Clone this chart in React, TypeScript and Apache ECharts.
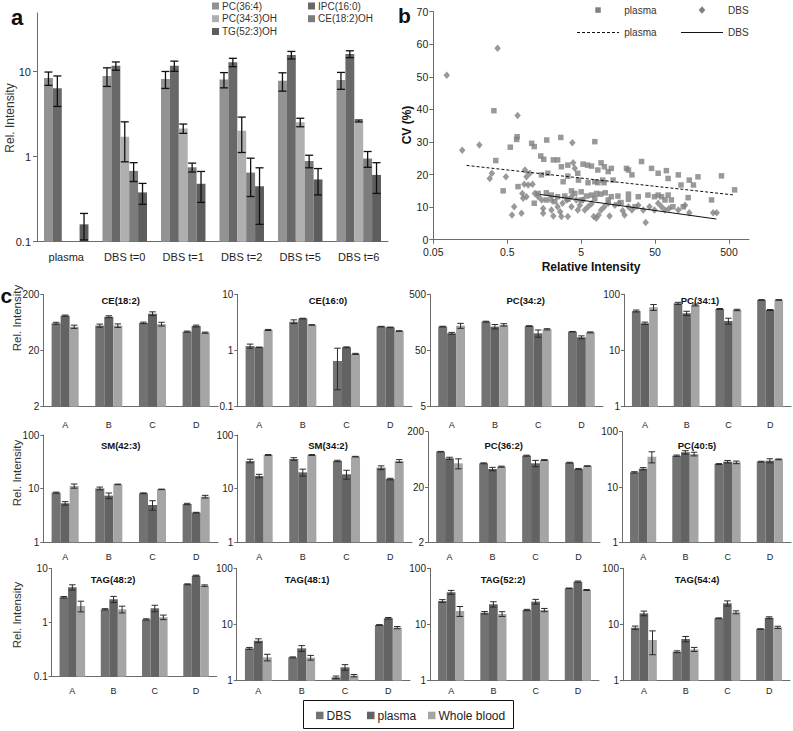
import React, { useEffect, useRef } from 'react';
import * as echarts from 'echarts';

const FONT = '"Liberation Sans", Arial, Helvetica, sans-serif';

// ---------------- Panel a data ----------------
const aCategories = ['plasma', 'DBS t=0', 'DBS t=1', 'DBS t=2', 'DBS t=5', 'DBS t=6'];
const aSeriesNames = ['PC(36:4)', 'IPC(16:0)', 'PC(34:3)OH', 'CE(18:2)OH', 'TG(52:3)OH'];
const aPC36_4 = [8.4, 8.9, 8.2, 8.1, 7.8, 8.0];
const aPC36_4Err = [1.5, 2.2, 1.85, 1.65, 1.9, 1.8];
const aIPC16_0 = [6.4, 11.7, 11.7, 12.9, 15.7, 16.1];
const aIPC16_0Err = [2.5, 1.3, 1.6, 1.45, 1.6, 1.5];
const aPC34_3OH = [null, 1.72, 2.15, 2.02, 2.54, 2.63];
const aPC34_3OHErr = [null, 0.85, 0.27, 0.9, 0.29, 0.07];
const aCE18_2OH = [null, 0.68, 0.75, 0.65, 0.89, 0.95];
const aCE18_2OHErr = [null, 0.17, 0.09, 0.31, 0.15, 0.2];
const aTG52_3OH = [0.16, 0.38, 0.48, 0.45, 0.54, 0.61];
const aTG52_3OHErr = [0.055, 0.105, 0.19, 0.29, 0.185, 0.24];
const aAxisMin = 0.1;
const aTicks = [0.1, 1, 10];

// ---------------- Panel b data ----------------
const bPlasma: number[][] = [
  [0.33, 39.6], [0.35, 24.3], [0.55, 28.4], [0.68, 31.6], [0.67, 30.8], [0.44, 15.0], [0.7, 16.3],
  [1.07, 29.6], [1.16, 28.6], [1.42, 25.7], [1.56, 24.7], [1.71, 30.6], [2.65, 31.4], [7.65, 30.1],
  [1.16, 11.2], [1.45, 19.9], [1.77, 20.4], [2.1, 24.5], [2.4, 24.5], [2.7, 22.4], [3.3, 22.9],
  [3.3, 19.5], [2.85, 17.8], [4.5, 20.4], [4.6, 18.3], [5.3, 23.2], [6.1, 22.9], [6.9, 22.6],
  [8.4, 21.4], [9.3, 23.6], [10.3, 22.4], [11.6, 20.9], [9.8, 18.3], [12.8, 21.9], [13.5, 18.3],
  [7.65, 17.8], [6.2, 17.5], [8.4, 17.5], [10.2, 17.5], [20.5, 21.9], [21.8, 21.4], [24.3, 19.9],
  [32.8, 24.0], [44.8, 21.9], [55, 20.4], [71, 21.2], [75, 18.8], [103, 19.9], [112, 16.8],
  [145, 18.3], [165, 16.8], [190, 19.3], [395, 19.6], [595, 15.3], [290, 12.2], [140, 12.9],
  [120, 10.1], [1.31, 14.2], [1.69, 14.4], [1.97, 13.7], [2.4, 13.2], [3.0, 13.4], [3.7, 15.0],
  [4.1, 14.2], [5.0, 14.7], [5.9, 13.4], [6.9, 13.7], [8.1, 14.2], [9.2, 14.0], [10.6, 14.4],
  [12.8, 13.2], [15.7, 13.4], [21.8, 14.0], [29.6, 13.2], [40, 13.7], [49, 13.2], [55, 13.7],
  [61, 13.2], [68, 12.2], [75, 13.7], [83, 12.2], [87, 10.1], [1.69, 12.2], [2.2, 11.7],
  [3.3, 12.4], [5.0, 12.2], [7.65, 12.7], [11.6, 12.2], [17.3, 11.4], [21.8, 12.4], [26.7, 10.1],
];
const bDBS: number[][] = [
  [0.076, 50.5], [0.37, 58.8], [0.123, 27.5], [0.21, 29.1], [0.69, 38.1], [3.8, 29.8], [0.29, 18.8],
  [0.31, 20.4], [0.48, 19.3], [0.87, 21.4], [0.91, 19.3], [1.01, 20.4], [0.96, 16.8], [0.8, 14.2],
  [0.82, 12.7], [0.91, 13.2], [0.62, 10.1], [0.58, 7.6], [0.78, 8.1], [1.18, 14.2], [1.31, 13.2],
  [1.46, 12.2], [1.53, 9.6], [1.53, 8.1], [1.98, 12.2], [1.98, 9.1], [2.1, 7.3], [2.4, 10.1],
  [2.6, 8.6], [2.7, 7.1], [2.8, 11.2], [3.2, 12.2], [3.3, 7.1], [3.7, 13.2], [3.7, 10.1],
  [3.9, 23.6], [4.1, 21.9], [4.3, 12.2], [4.5, 9.1], [4.8, 10.6], [5.3, 12.2], [5.6, 9.1],
  [6.2, 10.1], [6.9, 11.0], [7.4, 7.1], [8.0, 6.6], [8.6, 7.6], [9.3, 9.1], [10.3, 10.1],
  [11.6, 11.2], [12.1, 7.3], [14.3, 10.6], [16.1, 11.2], [18.2, 8.9], [19.3, 7.6], [21.8, 10.1],
  [24.3, 9.1], [29.6, 10.6], [34.6, 9.1], [37.3, 5.3], [42, 10.1], [49, 9.1], [55, 11.2],
  [61, 10.1], [68, 9.1], [77, 9.6], [103, 9.1], [127, 10.6], [145, 8.3], [305, 8.3], [340, 8.3],
  [1.1, 17.0], [0.85, 17.0],
];
const bPlasmaTrend: number[][] = [[0.141, 22.8], [598, 13.7]];
const bDBSTrend: number[][] = [[1.38, 13.9], [337, 6.35]];
const bXMin = 0.05;
const bXTicks = [0.05, 0.5, 5, 50, 500];
const bLegendNames = ['plasma', 'DBS'];

// ---------------- Panel c data ----------------
const cCategories = ['A', 'B', 'C', 'D'];
const cGroups = ['DBS', 'plasma', 'Whole blood'];
const cTitles = ['CE(18:2)', 'CE(16:0)', 'PC(34:2)', 'PC(34:1)', 'SM(42:3)', 'SM(34:2)', 'PC(36:2)', 'PC(40:5)', 'TAG(48:2)', 'TAG(48:1)', 'TAG(52:2)', 'TAG(54:4)'];
const cAxisMin = [2, 0.1, 5, 1, 1, 1, 2, 1, 0.1, 1, 1, 1];

const ce18_2 = [[61, 55.5, 62, 43.3], [83.4, 80, 90.5, 54.6], [53, 55.5, 59, 41.5]];
const ce18_2Err = [[2.5, 3.5, 2, 1], [2, 3, 7, 2], [3.5, 4, 4.5, 1]];
const ce16_0 = [[1.2, 3.26, 0.65, 2.66], [1.14, 3.7, 1.14, 2.58], [2.32, 2.85, 0.87, 2.22]];
const ce16_0Err = [[0.1, 0.25, 0.45, 0.03], [0.01, 0.05, 0.02, 0.03], [0.05, 0.03, 0.02, 0.03]];
const pc34_2 = [[133, 163, 136, 108], [101, 133, 101, 86], [138, 143, 119, 105]];
const pc34_2Err = [[2, 3, 2, 1], [4, 12, 15, 5], [14, 7, 3, 2]];
const pc34_1 = [[50.5, 69, 54.8, 79.3], [30.5, 45.9, 33.5, 52.6], [58.7, 64.6, 52.6, 79.3]];
const pc34_1Err = [[2, 3, 1, 1], [1.5, 4, 4, 1], [7, 2.5, 1.5, 1]];
const sm42_3 = [[8.42, 10.1, 8.2, 5.18], [5.33, 7.4, 4.96, 3.57], [11.2, 12.0, 9.7, 7.1]];
const sm42_3Err = [[0.2, 0.6, 0.15, 0.15], [0.4, 0.9, 1.0, 0.05], [1.0, 0.15, 0.1, 0.4]];
const sm34_2 = [[32.8, 35.7, 32.8, 24.6], [17.2, 20.1, 18.5, 15.1], [42.4, 42.4, 39.5, 32.8]];
const sm34_2Err = [[2.5, 2, 1, 2], [1.3, 3, 3.5, 0.5], [0.8, 0.8, 0.5, 2]];
const pc36_2 = [[87, 53.6, 73.7, 55], [66, 42.3, 53.6, 42.3], [53.6, 46.6, 61.5, 47.9]];
const pc36_2Err = [[1, 1, 1.5, 1], [3, 3, 7, 1], [11, 1, 1, 0.5]];
const pc40_5 = [[18.4, 36.8, 26, 28.7], [21.4, 42.3, 28.7, 29.9], [35.3, 39.5, 27.9, 31.6]];
const pc40_5Err = [[0.5, 1, 0.5, 0.5], [1, 3, 1.5, 2.5], [8, 3, 1.5, 0.5]];
const tag48_2 = [[2.92, 1.75, 1.14, 5.07], [4.46, 2.68, 1.83, 7.32], [2.02, 1.75, 1.25, 4.79]];
const tag48_2Err = [[0.1, 0.05, 0.03, 0.1], [0.5, 0.35, 0.25, 0.15], [0.45, 0.25, 0.12, 0.15]];
const tag48_1 = [[3.76, 2.6, 1.15, 9.8], [5.16, 3.76, 1.73, 12.9], [2.6, 2.57, 1.23, 8.8]];
const tag48_1Err = [[0.15, 0.05, 0.06, 0.15], [0.4, 0.45, 0.2, 0.4], [0.35, 0.25, 0.06, 0.4]];
const tag52_2 = [[26.2, 16.2, 18.1, 44], [37.4, 22.9, 25.5, 57.9], [17.4, 15.4, 18.1, 41.1]];
const tag52_2Err = [[1.5, 0.8, 0.5, 0.5], [3, 2.5, 2.5, 1.5], [3.5, 1.5, 1.2, 0.8]];
const tag54_4 = [[8.79, 3.28, 12.9, 8.3], [15.8, 5.52, 23.8, 13.2], [5.3, 3.61, 16.5, 8.9]];
const tag54_4Err = [[0.6, 0.12, 0.2, 0.1], [1.5, 0.6, 2.5, 0.5], [2.4, 0.3, 1, 0.4]];

const cValues = [ce18_2, ce16_0, pc34_2, pc34_1, sm42_3, sm34_2, pc36_2, pc40_5, tag48_2, tag48_1, tag52_2, tag54_4];
const cErrors = [ce18_2Err, ce16_0Err, pc34_2Err, pc34_1Err, sm42_3Err, sm34_2Err, pc36_2Err, pc40_5Err, tag48_2Err, tag48_1Err, tag52_2Err, tag54_4Err];

// ---------------- Styles / layout ----------------
const aColors = ['#929292', '#686868', '#afafaf', '#7c7c7c', '#5d5d5d'];
const cColors = ['#727272', '#636363', '#a5a5a5'];
const TEXT = '#1e1e1e';
const AXIS = '#6b6b6b';

const cLeft = [[43.3, 237.3, 430, 624], [43.3, 237.3, 428, 622], [51.7, 236.7, 430, 623]];
const cRight = [[218, 412, 603, 791], [218, 412, 600, 791], [216.7, 410, 599, 790]];
const cTop = [[294.3, 294.3, 294.3, 294.3], [435, 435, 431.7, 431.7], [568.3, 568.3, 568.3, 568.3]];
const cBottom = [[406.7, 406.7, 406.7, 406.7], [542.3, 542.3, 542.3, 542.3], [676.7, 680.7, 680.7, 680.7]];
const cTitleX = [[120.7, 328, 525.7, 700], [120.7, 328, 503.7, 697], [113, 307, 503, 697]];
const cTitleY = [300.7, 445.7, 579];
const cLabelY = [425, 556.7, 690.5];

const lg = (v: number, min: number) => Math.log10(v / min);
const fmtNum = (x: number) => String(Number(x.toPrecision(3)));

function errRender(n: number, gapFrac: number, capW: number, color: string, lw: number) {
  return (params: any, api: any) => {
    const cat = api.value(0);
    const si = api.value(1);
    const lo = api.value(2);
    const hi = api.value(3);
    const bw = api.size([1, 0])[0];
    const groupW = bw * (1 - gapFrac);
    const barW = groupW / n;
    const p0 = api.coord([cat, lo]);
    const p1 = api.coord([cat, hi]);
    const cx = p0[0] - groupW / 2 + (si + 0.5) * barW;
    const style = { stroke: color, lineWidth: lw };
    return {
      type: 'group',
      children: [
        { type: 'line', shape: { x1: cx, y1: p0[1], x2: cx, y2: p1[1] }, style },
        { type: 'line', shape: { x1: cx - capW / 2, y1: p0[1], x2: cx + capW / 2, y2: p0[1] }, style },
        { type: 'line', shape: { x1: cx - capW / 2, y1: p1[1], x2: cx + capW / 2, y2: p1[1] }, style },
      ],
    };
  };
}

function txt(text: string, x: number, y: number, size: number, opts: any = {}) {
  const align = opts.align || 'left';
  const valign = opts.valign || 'middle';
  return {
    type: 'text',
    x,
    y,
    rotation: opts.rotation || 0,
    silent: true,
    style: {
      text,
      fill: opts.color || TEXT,
      font: `${opts.bold ? 'bold ' : ''}${size}px ${FONT}`,
      align,
      verticalAlign: valign,
      textAlign: align,
      textVerticalAlign: valign,
    },
  };
}

function buildOption() {
  const grid: any[] = [];
  const xAxis: any[] = [];
  const yAxis: any[] = [];
  const series: any[] = [];
  const graphic: any[] = [];

  // ===== Panel a =====
  const aVals = [aPC36_4, aIPC16_0, aPC34_3OH, aCE18_2OH, aTG52_3OH];
  const aErrs = [aPC36_4Err, aIPC16_0Err, aPC34_3OHErr, aCE18_2OHErr, aTG52_3OHErr];
  const aGap = 0.24;
  grid.push({ left: 37, top: 13, width: 351, height: 228.7 });
  xAxis.push({
    type: 'category', gridIndex: 0, data: aCategories,
    axisLine: { lineStyle: { color: AXIS, width: 1 } },
    axisTick: { length: 4, lineStyle: { color: AXIS } },
    axisLabel: { interval: 0, fontSize: 11, color: TEXT, fontFamily: FONT, margin: 10 },
  });
  const aTickPos = aTicks.map((t) => lg(t, aAxisMin));
  yAxis.push({
    type: 'value', gridIndex: 0, min: 0, max: 2.69,
    splitLine: { show: false },
    axisLine: { show: true, lineStyle: { color: AXIS } },
    axisTick: { show: true, length: 4, customValues: aTickPos, lineStyle: { color: AXIS } },
    axisLabel: {
      customValues: aTickPos, fontSize: 11, color: TEXT, fontFamily: FONT, margin: 6,
      formatter: (v: number) => fmtNum(aAxisMin * Math.pow(10, v)),
    },
  });
  const aErrData: any[] = [];
  aVals.forEach((vals, si) => {
    series.push({
      type: 'bar', name: aSeriesNames[si], xAxisIndex: 0, yAxisIndex: 0,
      data: vals.map((v) => (v == null ? '-' : lg(v, aAxisMin))),
      barGap: '0%', barCategoryGap: `${aGap * 100}%`,
      itemStyle: { color: aColors[si] },
    });
    vals.forEach((v, ci) => {
      const e = aErrs[si][ci];
      if (v == null || e == null) return;
      aErrData.push([ci, si, lg(Math.max(v - e, 1e-6), aAxisMin), lg(v + e, aAxisMin)]);
    });
  });
  series.push({
    type: 'custom', xAxisIndex: 0, yAxisIndex: 0, z: 5,
    renderItem: errRender(aVals.length, aGap, 8, '#111', 1.3),
    encode: { x: 0, y: [2, 3] }, data: aErrData,
  });

  // panel a legend
  const aLegPos = [[212, 6], [308, 6], [212, 18.7], [308, 18.7], [212, 31.5]];
  aSeriesNames.forEach((name, i) => {
    const [lx, ly] = aLegPos[i];
    graphic.push({ type: 'rect', silent: true, shape: { x: lx, y: ly - 3.5, width: 7, height: 7 }, style: { fill: aColors[i] } });
    graphic.push(txt(name, lx + 10, ly, 10, { color: '#333' }));
  });
  graphic.push(txt('a', 11, 17.4, 22, { bold: true, color: '#111' }));
  graphic.push(txt('Rel. Intensity', 9.5, 118, 12, { rotation: Math.PI / 2, align: 'center', color: '#333' }));

  // ===== Panel b =====
  const bg = grid.length;
  grid.push({ left: 433.3, top: 11.7, width: 315.7, height: 228 });
  const bTickPos = bXTicks.map((t) => lg(t, bXMin));
  xAxis.push({
    type: 'value', gridIndex: bg, min: 0, max: 4.27,
    splitLine: { show: false },
    axisLine: { show: true, onZero: false, lineStyle: { color: AXIS } },
    axisTick: { show: true, length: 4, customValues: bTickPos, lineStyle: { color: AXIS } },
    axisLabel: {
      customValues: bTickPos, fontSize: 10.5, color: TEXT, fontFamily: FONT, margin: 7,
      formatter: (v: number) => fmtNum(bXMin * Math.pow(10, v)),
    },
  });
  yAxis.push({
    type: 'value', gridIndex: bg, min: 0, max: 70, interval: 10,
    splitLine: { show: false },
    axisLine: { show: true, onZero: false, lineStyle: { color: AXIS } },
    axisTick: { show: true, length: 4, lineStyle: { color: AXIS } },
    axisLabel: { fontSize: 10.5, color: TEXT, fontFamily: FONT, margin: 5 },
  });
  const toB = (p: number[]) => [lg(p[0], bXMin), p[1]];
  series.push({
    type: 'scatter', name: 'plasma', xAxisIndex: bg, yAxisIndex: bg,
    symbol: 'rect', symbolSize: 5.5, itemStyle: { color: '#808080' },
    data: bPlasma.map(toB),
  });
  series.push({
    type: 'scatter', name: 'DBS', xAxisIndex: bg, yAxisIndex: bg,
    symbol: 'diamond', symbolSize: [6.5, 7.5], itemStyle: { color: '#808080' },
    data: bDBS.map(toB),
  });
  series.push({
    type: 'line', name: 'plasma trend', xAxisIndex: bg, yAxisIndex: bg, showSymbol: false, symbol: 'none',
    lineStyle: { color: '#111', width: 1, type: [3, 2] }, data: bPlasmaTrend.map(toB), z: 4,
  });
  series.push({
    type: 'line', name: 'DBS trend', xAxisIndex: bg, yAxisIndex: bg, showSymbol: false, symbol: 'none',
    lineStyle: { color: '#111', width: 1 }, data: bDBSTrend.map(toB), z: 4,
  });
  // panel b legend
  graphic.push({ type: 'rect', silent: true, shape: { x: 595.3, y: 7.3, width: 5.5, height: 5.5 }, style: { fill: '#808080' } });
  graphic.push(txt(bLegendNames[0], 624.3, 10, 10, { color: '#333' }));
  graphic.push({ type: 'polygon', silent: true, shape: { points: [[702, 6.3], [705.3, 10], [702, 13.7], [698.7, 10]] }, style: { fill: '#808080' } });
  graphic.push(txt(bLegendNames[1], 728, 10, 10, { color: '#333' }));
  graphic.push({ type: 'line', silent: true, shape: { x1: 577, y1: 32.5, x2: 619, y2: 32.5 }, style: { stroke: '#111', lineWidth: 1, lineDash: [3, 2] } });
  graphic.push(txt(bLegendNames[0], 624.3, 32.5, 10, { color: '#333' }));
  graphic.push({ type: 'line', silent: true, shape: { x1: 681, y1: 32.5, x2: 723, y2: 32.5 }, style: { stroke: '#111', lineWidth: 1 } });
  graphic.push(txt(bLegendNames[1], 728, 32.5, 10, { color: '#333' }));
  graphic.push(txt('b', 398, 15.7, 21, { bold: true, color: '#111' }));
  graphic.push(txt('CV (%)', 407, 125, 12, { bold: true, rotation: Math.PI / 2, align: 'center', color: '#111' }));
  graphic.push(txt('Relative Intensity', 591, 267, 12, { bold: true, align: 'center', color: '#111' }));

  // ===== Panel c =====
  const cGap = 0.38;
  cTitles.forEach((title, k) => {
    const r = Math.floor(k / 4);
    const c = k % 4;
    const gi = grid.length;
    const left = cLeft[r][c];
    const right = cRight[r][c];
    const top = cTop[r][c];
    const bottom = cBottom[r][c];
    const min = cAxisMin[k];
    grid.push({ left, top, width: right - left, height: bottom - top });
    xAxis.push({
      type: 'category', gridIndex: gi, data: cCategories,
      axisLine: { lineStyle: { color: AXIS, width: 1 } },
      axisTick: { length: 3, lineStyle: { color: AXIS } },
      axisLabel: { interval: 0, fontSize: 9, color: TEXT, fontFamily: FONT, margin: cLabelY[r] - 4.5 - bottom },
    });
    const ticks = [0, 1, 2];
    yAxis.push({
      type: 'value', gridIndex: gi, min: 0, max: 2,
      splitLine: { show: false },
      axisLine: { show: true, lineStyle: { color: AXIS } },
      axisTick: { show: true, length: 3, customValues: ticks, lineStyle: { color: AXIS } },
      axisLabel: {
        customValues: ticks, fontSize: 10, color: TEXT, fontFamily: FONT, margin: 4,
        formatter: (v: number) => fmtNum(min * Math.pow(10, v)),
      },
    });
    const errData: any[] = [];
    cGroups.forEach((gname, si) => {
      const vals = cValues[k][si];
      series.push({
        type: 'bar', name: gname, xAxisIndex: gi, yAxisIndex: gi,
        data: vals.map((v) => lg(v, min)),
        barGap: '0%', barCategoryGap: `${cGap * 100}%`,
        itemStyle: { color: cColors[si] },
      });
      vals.forEach((v, ci) => {
        const e = cErrors[k][si][ci];
        errData.push([ci, si, lg(Math.max(v - e, min), min), lg(v + e, min)]);
      });
    });
    series.push({
      type: 'custom', xAxisIndex: gi, yAxisIndex: gi, z: 5,
      renderItem: errRender(cGroups.length, cGap, 6.5, '#2a2a2a', 1),
      encode: { x: 0, y: [2, 3] }, data: errData,
    });
    graphic.push(txt(title, cTitleX[r][c], cTitleY[r], 9.5, { bold: true, align: 'center', color: '#111' }));
  });
  const cRelY = [318, 473, 615];
  cRelY.forEach((y) => graphic.push(txt('Rel. Intensity', 17, y, 11.5, { rotation: Math.PI / 2, align: 'center', color: '#333' })));
  graphic.push(txt('c', 0.5, 295.7, 21, { bold: true, color: '#111' }));

  // panel c legend box
  graphic.push({ type: 'rect', silent: true, shape: { x: 303.5, y: 700.5, width: 210, height: 28 }, style: { fill: '#fff', stroke: '#111', lineWidth: 1 } });
  const cLegSq = [316, 367, 428];
  cGroups.forEach((g, i) => {
    graphic.push({ type: 'rect', silent: true, z: 10, shape: { x: cLegSq[i], y: 711.7, width: 7.5, height: 7.5 }, style: { fill: cColors[i] } });
    graphic.push({ ...txt(g, cLegSq[i] + 10.5, 715.7, 12, { color: '#222' }), z: 10 });
  });

  return {
    animation: false,
    backgroundColor: '#ffffff',
    textStyle: { fontFamily: FONT },
    grid,
    xAxis,
    yAxis,
    series,
    graphic: { elements: graphic },
  };
}

export default function App() {
  const ref = useRef<HTMLDivElement>(null);
  useEffect(() => {
    const chart = echarts.init(ref.current as HTMLDivElement, null, { renderer: 'svg', width: 793, height: 731 });
    chart.setOption(buildOption() as any);
    return () => {
      chart.dispose();
    };
  }, []);
  return <div ref={ref} style={{ position: 'absolute', left: 0, top: 0, width: 793, height: 731 }} />;
}
